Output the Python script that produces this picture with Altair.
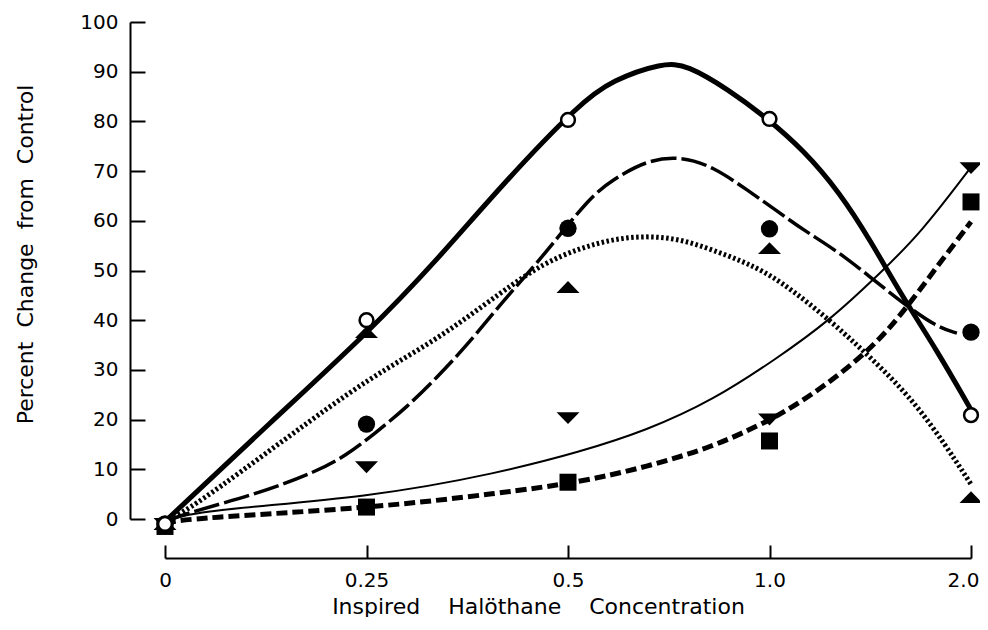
import altair as alt
import pandas as pd

FONT = "DejaVu Sans"

# x axis categories (evenly spaced positions)
conc_labels = ["0", "0.25", "0.5", "1.0", "2.0"]
conc_pos = [0, 1, 2, 3, 4]

# measured points (percent change from control)
pts_open_circle = [-1.0, 40.0, 80.3, 80.5, 20.9]
pts_filled_circle = [-1.0, 19.1, 58.5, 58.4, 37.6]
pts_triangle_up = [-1.0, 37.6, 46.7, 54.5, 4.4]
pts_triangle_down = [-1.0, 10.4, 20.3, 20.0, 70.6]
pts_square = [-1.5, 2.4, 7.4, 15.7, 63.8]

# hand-fitted curves (x in axis-position units)
curve_a_x = [0.0, 0.52, 1.02, 1.35, 1.68, 2.06, 2.22, 2.47, 2.59, 2.80, 2.98, 3.17, 3.35, 3.50, 3.66, 3.83, 4.0]
curve_a_y = [-0.5, 19.3, 38.0, 52.1, 67.6, 83.7, 88.3, 91.8, 91.4, 86.3, 80.9, 74.2, 65.6, 56.1, 44.7, 34.0, 22.0]

curve_b_x = [0.0, 0.11, 0.47, 0.75, 0.90, 1.05, 1.20, 1.35, 1.50, 1.65, 1.78, 1.90, 2.11, 2.22, 2.39, 2.56, 2.72, 2.89, 3.05, 3.17, 3.33, 3.50, 3.66, 3.83, 3.93]
curve_b_y = [-0.5, 1.2, 5.2, 9.5, 12.8, 17.5, 22.5, 28.5, 35.0, 42.5, 48.5, 54.1, 64.8, 68.2, 72.2, 73.0, 70.9, 66.2, 61.6, 58.1, 54.1, 48.7, 43.5, 38.6, 37.4]

curve_c_x = [0.0, 0.14, 0.61, 1.02, 1.35, 1.68, 1.88, 2.06, 2.22, 2.39, 2.56, 2.72, 2.89, 3.05, 3.30, 3.50, 3.75, 4.0]
curve_c_y = [-0.5, 2.4, 16.5, 28.6, 36.0, 46.0, 51.5, 54.5, 56.3, 57.0, 56.3, 54.1, 51.5, 48.1, 40.0, 32.6, 22.5, 7.0]

curve_d_x = [0.0, 0.14, 1.03, 1.66, 2.06, 2.39, 2.72, 3.04, 3.30, 3.55, 3.75, 4.0]
curve_d_y = [-0.5, 1.6, 4.4, 9.3, 13.5, 17.8, 23.9, 32.4, 40.0, 49.5, 57.5, 70.8]

curve_e_x = [0.0, 0.14, 1.03, 1.66, 2.06, 2.39, 2.72, 2.97, 3.05, 3.25, 3.50, 3.66, 3.83, 4.0]
curve_e_y = [-0.8, 0.2, 2.2, 5.2, 7.4, 10.5, 14.5, 19.3, 21.0, 26.0, 34.0, 41.4, 50.7, 59.8]

label_expr = "['0','0.25','0.5','1.0','2.0'][datum.value]"
NB = "\u00a0"
x_title = "Inspired" + NB * 3 + " Halöthane" + NB * 3 + " Concentration"
y_title = "Percent" + NB + " Change" + NB + " from" + NB + " Control"

xscale = alt.Scale(domain=[0, 4], nice=False, zero=False)
yscale = alt.Scale(domain=[0, 100], nice=False, zero=False)

x_axis_main = alt.Axis(
    orient="bottom", values=conc_pos, labelExpr=label_expr, offset=26,
    tickSize=13, tickWidth=2, tickColor="black", domain=False, grid=False,
    labelFont=FONT, labelFontSize=20, labelColor="black", labelPadding=12,
    labelFlush=False, labelOverlap=False,
    labelOffset={"condition": {"test": "datum.value == 4", "value": -8}, "value": 0},
    title=x_title, titleFont=FONT, titleFontSize=22,
    titleFontWeight="normal", titleColor="black", titlePadding=6, titleX=373,
)
y_axis_main = alt.Axis(
    orient="left", values=list(range(0, 101, 10)), offset=20,
    tickSize=15, tickWidth=2, tickColor="black", domain=False, grid=False,
    labelFont=FONT, labelFontSize=20, labelColor="black", labelPadding=12,
    labelFlush=False, labelOverlap=False,
    title=y_title, titleFont=FONT, titleFontSize=22,
    titleFontWeight="normal", titleColor="black", titlePadding=42, titleY=232,
)
x_axis_line = alt.Axis(orient="bottom", offset=39, domain=True, domainWidth=2,
                       domainColor="black", ticks=False, labels=False, grid=False, title="")
y_axis_line = alt.Axis(orient="left", offset=35, domain=True, domainWidth=2,
                       domainColor="black", ticks=False, labels=False, grid=False, title="")


def curve_df(xs, ys):
    return pd.DataFrame({"pos": xs, "value": ys})


def pts_df(vals):
    return pd.DataFrame({"pos": conc_pos, "value": vals, "conc": conc_labels})


def line_layer(xs, ys, width, dash=None, xa=None, ya=None):
    kw = dict(color="black", strokeWidth=width, interpolate="basis", strokeCap="butt")
    if dash is not None:
        kw["strokeDash"] = dash
    return alt.Chart(curve_df(xs, ys)).mark_line(**kw).encode(
        x=alt.X("pos:Q", scale=xscale, axis=xa),
        y=alt.Y("value:Q", scale=yscale, axis=ya),
        order="pos:Q",
    )


def point_layer(vals, xa=None, ya=None, **mk):
    return alt.Chart(pts_df(vals)).mark_point(opacity=1, **mk).encode(
        x=alt.X("pos:Q", scale=xscale, axis=xa),
        y=alt.Y("value:Q", scale=yscale, axis=ya),
    )


TRI_UP = "M0,-0.52L1,0.52L-1,0.52Z"
TRI_DOWN = "M-1,-0.52L1,-0.52L0,0.52Z"

layers = [
    line_layer(curve_a_x, curve_a_y, 5, xa=x_axis_main, ya=y_axis_main),
    line_layer(curve_b_x, curve_b_y, 3.5, dash=[26, 5]),
    line_layer(curve_c_x, curve_c_y, 5, dash=[2.5, 2.5]),
    line_layer(curve_d_x, curve_d_y, 2),
    line_layer(curve_e_x, curve_e_y, 5, dash=[11, 5]),
    point_layer(pts_square, shape="square", filled=True, color="black", size=289),
    point_layer(pts_triangle_down, shape=TRI_DOWN, filled=True, color="black", size=529),
    point_layer(pts_triangle_up, shape=TRI_UP, filled=True, color="black", size=529),
    point_layer(pts_filled_circle, shape="circle", filled=True, color="black", size=300),
    point_layer(pts_open_circle, xa=x_axis_line, ya=y_axis_line, shape="circle",
                filled=True, fill="white", stroke="black", strokeWidth=2.5, size=190),
]

chart = (
    alt.layer(*layers)
    .resolve_axis(x="independent", y="independent")
    .properties(
        width=806, height=497,
        autosize=alt.AutoSizeParams(type="none"),
        padding={"left": 157, "top": 14, "right": 9, "bottom": 98},
        background="white",
    )
    .configure_view(strokeWidth=0)
)

chart.save("out.html", embed_options={"renderer": "svg", "actions": False})
